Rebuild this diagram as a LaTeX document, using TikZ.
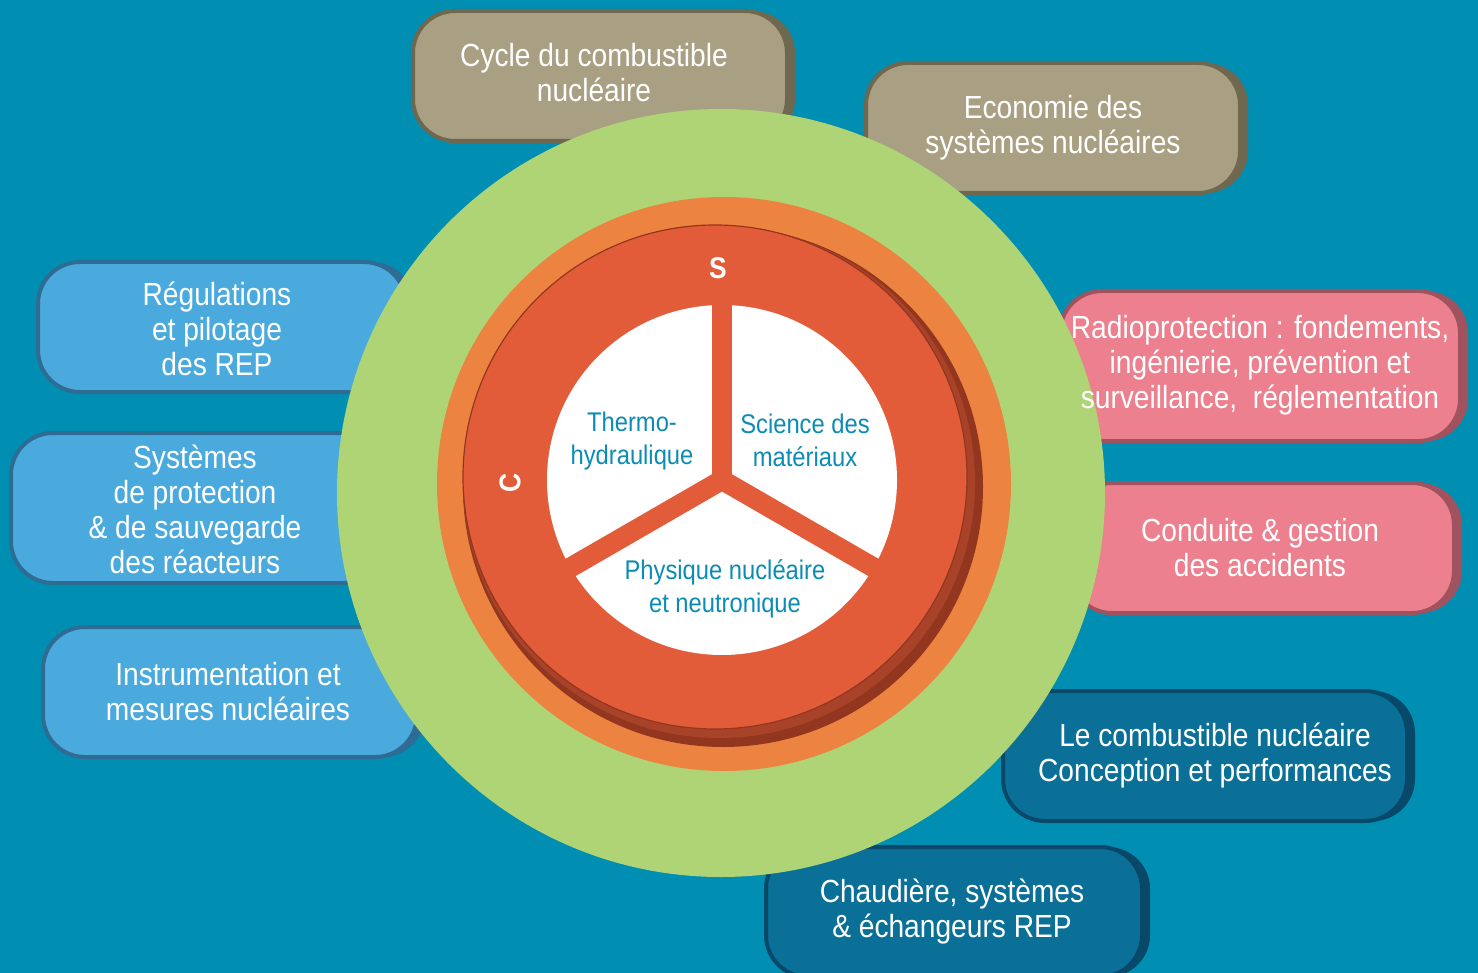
\documentclass[tikz,border=0pt]{standalone}
\usepackage{fontspec}
\setmainfont{Liberation Sans}[FakeStretch=0.88]
\usepackage{tikz}
\usetikzlibrary{shadows}
\definecolor{bgteal}{RGB}{0, 142, 178}
\definecolor{ringgreen}{RGB}{174, 212, 118}
\definecolor{ringorange}{RGB}{236, 131, 64}
\definecolor{discred}{RGB}{227, 92, 58}
\definecolor{discmid}{RGB}{168, 67, 42}
\definecolor{discdark}{RGB}{147, 54, 31}
\definecolor{tanfill}{RGB}{169, 159, 130}
\definecolor{tanedge}{RGB}{110, 104, 80}
\definecolor{skyfill}{RGB}{75, 170, 221}
\definecolor{skyedge}{RGB}{46, 108, 148}
\definecolor{rosefill}{RGB}{236, 128, 142}
\definecolor{roseedge}{RGB}{160, 82, 94}
\definecolor{navyfill}{RGB}{10, 112, 152}
\definecolor{navyedge}{RGB}{8, 72, 104}
\definecolor{pietext}{RGB}{12, 140, 180}
\tikzset{
    topic/.style={rounded corners=21pt, line width=2pt, inner sep=0pt, minimum height=65pt},
    tanbox/.style={topic, fill=tanfill, draw=tanedge, general shadow={fill=tanedge, shadow xshift=4pt}},
    skybox/.style={topic, fill=skyfill, draw=skyedge, general shadow={fill=skyedge, shadow xshift=4pt}},
    rosebox/.style={topic, fill=rosefill, draw=roseedge, general shadow={fill=roseedge, shadow xshift=4pt}},
    navybox/.style={topic, fill=navyfill, draw=navyedge, general shadow={fill=navyedge, shadow xshift=4pt}},
    topictext/.style={text=white, align=center, inner sep=0pt, font=\fontsize{16}{17.5}\selectfont},
    pielabel/.style={text=pietext, align=center, inner sep=0pt, font=\fontsize{13.5}{16.5}\selectfont},
    ringletter/.style={text=white, inner sep=0pt, font=\fontsize{15}{15}\selectfont\bfseries}
}
\begin{document}
\begin{tikzpicture}[x=0.5pt, y=-0.5pt]
    \useasboundingbox (0,0) rectangle (1478,973);
    \fill[bgteal] (0,0) rectangle (1478,973);

    % outer topics (panels first, words later)
    \node[tanbox, minimum width=187pt] (cycle) at (600,76) {};
    \node[tanbox, minimum width=187pt] (econ) at (1053,128) {};
    \node[skybox, minimum width=184pt] (regul) at (222,327) {};
    \node[skybox, minimum width=187pt, minimum height=75pt] (protect) at (198,508) {};
    \node[skybox, minimum width=187pt] (instru) at (230,692) {};
    \node[rosebox, minimum width=200pt, minimum height=75pt] (radio) at (1260,366) {};
    \node[rosebox, minimum width=192pt] (conduite) at (1262,548) {};
    \node[navybox, minimum width=202pt] (fuel) at (1205,756) {};
    \node[navybox, minimum width=188pt] (boiler) at (954,912) {};

    % rings
    \coordinate (core) at (721,493);
    \coordinate (disc) at (715,477);
    \coordinate (hub) at (722,480);
    \fill[ringgreen] (core) circle[radius=192pt];
    \fill[ringorange] (724,484) circle[radius=143.5pt];
    \fill[discdark] (723,487) circle[radius=130pt];
    \fill[discmid] (719,482) circle[radius=128pt];
    \fill[discred, draw=discdark, line width=0.6pt] (disc) circle[radius=126pt];

    % central pie
    \fill[white] (hub) circle[radius=87.5pt];
    \foreach \a in {90,210,330}
        \draw[discred, line width=10pt] (hub) -- ++(\a:95pt);

    \node[ringletter] (safety) at (718,268) {S};
    \node[ringletter, rotate=90] (culture) at (510,483) {C};
    \node[pielabel] (thermo) at (632,441) {Thermo-\\hydraulique};
    \node[pielabel] (materials) at (805,440) {Science des\\matériaux};
    \node[pielabel] (physics) at (725,589) {Physique nucléaire\\et neutronique};

    \node[topictext, xshift=-3pt, yshift=1.5pt] (cycletext) at (cycle) {Cycle du combustible\\nucléaire};
    \node[topictext] (econtext) at (econ) {Economie des\\systèmes nucléaires};
    \node[topictext, xshift=-2.5pt, yshift=-1pt] (regultext) at (regul) {Régulations\\et pilotage\\des REP};
    \node[topictext, xshift=-1.5pt, yshift=-0.5pt] (protecttext) at (protect) {Systèmes\\de protection\\\& de sauvegarde\\des réacteurs};
    \node[topictext, xshift=-1pt] (instrutext) at (instru) {Instrumentation et\\mesures nucléaires};
    \node[topictext, yshift=0.5pt] (radiotext) at (radio) {Radioprotection : fondements,\\ingénierie, prévention et\\surveillance,\ \ réglementation};
    \node[topictext, xshift=-1pt] (conduitetext) at (conduite) {Conduite \& gestion\\des accidents};
    \node[topictext, xshift=5pt] (fueltext) at (fuel) {Le combustible nucléaire\\Conception et performances};
    \node[topictext, xshift=-1pt] (boilertext) at (boiler) {Chaudière, systèmes\\\& échangeurs REP};
\end{tikzpicture}
\end{document}
